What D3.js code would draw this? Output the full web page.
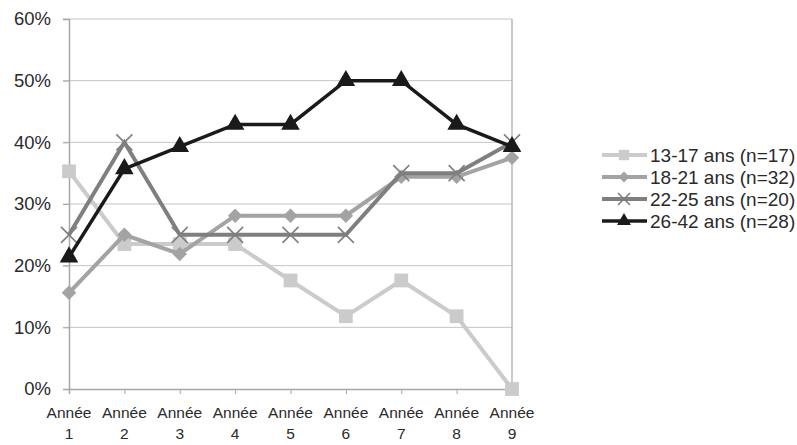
<!DOCTYPE html>
<html>
<head>
<meta charset="utf-8">
<script src="https://cdn.jsdelivr.net/npm/d3@7"></script>
<style>
  body { margin: 0; background: #fff; }
  text { font-family: "Liberation Sans", Arial, sans-serif; fill: #2a2a2a; }
</style>
</head>
<body>
<script>
// data (percent)
var years = ['1', '2', '3', '4', '5', '6', '7', '8', '9'];
var s1317 = [35.3, 23.5, 23.5, 23.5, 17.6, 11.8, 17.6, 11.8, 0];
var s1821 = [15.6, 25, 21.9, 28.1, 28.1, 28.1, 34.4, 34.4, 37.5];
var s2225 = [25, 40, 25, 25, 25, 25, 35, 35, 40];
var s2642 = [21.4, 35.7, 39.3, 42.9, 42.9, 50, 50, 42.9, 39.3];
var seriesNames = ['13-17 ans (n=17)', '18-21 ans (n=32)', '22-25 ans (n=20)', '26-42 ans (n=28)'];
var yTicks = [0, 10, 20, 30, 40, 50, 60];

var width = 797;
var height = 445;

var series = [
  { name: seriesNames[0], values: s1317, color: '#cbcbcb', width: 4, marker: 'square' },
  { name: seriesNames[1], values: s1821, color: '#a3a3a3', width: 4, marker: 'diamond' },
  { name: seriesNames[2], values: s2225, color: '#7f7f7f', width: 4, marker: 'cross' },
  { name: seriesNames[3], values: s2642, color: '#1a1a1a', width: 3.5, marker: 'triangle' }
];

var svg = d3.select('body').append('svg')
  .attr('width', width)
  .attr('height', height);

var x = d3.scalePoint().domain(years).range([69, 512]);
var y = d3.scaleLinear().domain([0, 60]).range([389, 19]);

// grid lines
svg.selectAll('.grid')
  .data(yTicks.slice(1))
  .enter()
    .append('line')
    .attr('class', 'grid')
    .attr('x1', 63)
    .attr('x2', 512)
    .attr('y1', function(d) { return y(d); })
    .attr('y2', function(d) { return y(d); })
    .attr('stroke', '#c4c4c4')
    .attr('stroke-width', 1);

// y axis
var yAxis = d3.axisLeft(y)
  .tickValues(yTicks)
  .tickSize(6)
  .tickFormat(function(d) { return d + '%'; });

var gy = svg.append('g')
  .attr('transform', 'translate(69,0)')
  .call(yAxis);
gy.select('.domain').attr('stroke', '#a8a8a8').attr('stroke-width', 1.5);
gy.selectAll('.tick line').attr('stroke', '#a8a8a8');
gy.selectAll('.tick text')
  .attr('x', -18)
  .attr('font-size', 18.5)
  .attr('font-family', '"Liberation Sans", Arial, sans-serif')
  .attr('fill', '#2a2a2a');

// right border
svg.append('line')
  .attr('x1', 512).attr('x2', 512)
  .attr('y1', 19).attr('y2', 389)
  .attr('stroke', '#a8a8a8')
  .attr('stroke-width', 1.2);

// x axis
var xAxis = d3.axisBottom(x).tickSize(5).tickFormat('');
var gx = svg.append('g')
  .attr('transform', 'translate(0,389)')
  .call(xAxis);
gx.select('.domain').attr('stroke', '#a8a8a8').attr('stroke-width', 1.5);
gx.selectAll('.tick line').attr('stroke', '#a8a8a8');

var xl = svg.selectAll('.xlab')
  .data(years)
  .enter()
    .append('text')
    .attr('class', 'xlab')
    .attr('text-anchor', 'middle')
    .attr('font-size', 15.5)
    .attr('x', function(d) { return x(d); });
xl.append('tspan')
  .attr('x', function(d) { return x(d); })
  .attr('y', 418)
  .text('Année');
xl.append('tspan')
  .attr('x', function(d) { return x(d); })
  .attr('y', 439)
  .text(function(d) { return d; });

function drawMarker(g, type, color, k) {
  if (type === 'cross') {
    var r = 8 * k;
    g.append('path')
      .attr('d', 'M' + -r + ',' + -r + 'L' + r + ',' + r + 'M' + -r + ',' + r + 'L' + r + ',' + -r)
      .attr('stroke', color)
      .attr('stroke-width', 1.6)
      .attr('fill', 'none');
  } else if (type === 'diamond') {
    g.append('path')
      .attr('d', d3.symbol().type(d3.symbolSquare).size(105 * k * k)())
      .attr('transform', 'rotate(45)')
      .attr('fill', color);
  } else if (type === 'square') {
    g.append('path')
      .attr('d', d3.symbol().type(d3.symbolSquare).size(190 * k * k)())
      .attr('fill', color);
  } else {
    g.append('path')
      .attr('d', d3.symbol().type(d3.symbolTriangle).size(150 * k * k)())
      .attr('fill', color);
  }
}

var line = d3.line()
  .x(function(d, i) { return x(years[i]); })
  .y(function(d) { return y(d); });

series.forEach(function(s) {
  svg.append('path')
    .datum(s.values)
    .attr('d', line)
    .attr('fill', 'none')
    .attr('stroke', s.color)
    .attr('stroke-width', s.width)
    .attr('stroke-linejoin', 'miter');

  s.values.forEach(function(v, i) {
    var g = svg.append('g')
      .attr('transform', 'translate(' + x(years[i]) + ',' + y(v) + ')');
    drawMarker(g, s.marker, s.color, 1);
  });
});

// legend
var lg = svg.append('g').attr('transform', 'translate(602,155)');
series.forEach(function(s, i) {
  var row = lg.append('g').attr('transform', 'translate(0,' + (i * 22) + ')');
  row.append('line')
    .attr('x1', 0).attr('x2', 45)
    .attr('y1', 0).attr('y2', 0)
    .attr('stroke', s.color)
    .attr('stroke-width', s.width);
  var m = row.append('g').attr('transform', 'translate(22,0)');
  drawMarker(m, s.marker, s.color, 0.75);
  row.append('text')
    .attr('x', 48)
    .attr('y', 7)
    .attr('font-size', 19)
    .text(s.name);
});
</script>
</body>
</html>
